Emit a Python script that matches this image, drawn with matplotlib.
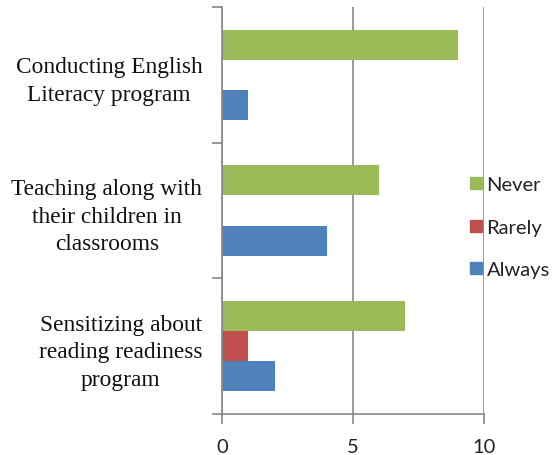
import matplotlib
matplotlib.use("Agg")
import matplotlib.pyplot as plt
from matplotlib.lines import Line2D
import numpy as np

categories = ["Sensitizing about\nreading readiness\nprogram",
              "Teaching along with\ntheir children in\nclassrooms",
              "Conducting English\nLiteracy program"]
always = [2, 4, 1]
rarely = [1, 0, 0]
never = [7, 6, 9]
series_names = ["Never", "Rarely", "Always"]
colors = {"Never": "#9BBB59", "Rarely": "#C0504D", "Always": "#4F81BD"}
x_ticks = [0, 5, 10]

fig = plt.figure(figsize=(5.54, 4.56), dpi=100)
ax = fig.add_axes([0.4013, 0.0899, 0.8731 - 0.4013, 0.9825 - 0.0899])

y = np.arange(len(categories))
h = 1 / 4.5
ax.barh(y - h, always, height=h, color=colors["Always"], zorder=3)
ax.barh(y, rarely, height=h, color=colors["Rarely"], zorder=3)
ax.barh(y + h, never, height=h, color=colors["Never"], zorder=3)

ax.set_xlim(0, 10)
ax.set_ylim(-0.5, len(categories) - 0.5)

gray = "#878787"
ax.set_xticks(x_ticks)
ax.set_xticklabels([str(t) for t in x_ticks], fontfamily="Lato", fontsize=14.5, color="#222222")
ax.tick_params(axis="x", direction="out", length=7, width=1.2, color=gray, pad=10.5)

ax.set_yticks(np.arange(-0.5, len(categories)), minor=False)
ax.set_yticklabels([])
ax.tick_params(axis="y", which="major", direction="out", length=7, width=1.2, color=gray)
ax.set_yticks(y, minor=True)
ax.set_yticklabels(categories, minor=True, fontfamily="Liberation Serif", fontsize=16.8,
                   color="#111111", ha="right", multialignment="center")
for lab in ax.get_yticklabels(minor=True):
    lab.set_linespacing(1.4)
ax.tick_params(axis="y", which="minor", length=0, pad=14.4)

ax.grid(axis="x", color=gray, linewidth=1.2, zorder=0)
for s in ["top", "right"]:
    ax.spines[s].set_visible(False)
for s in ["left", "bottom"]:
    ax.spines[s].set_color(gray)
    ax.spines[s].set_linewidth(1.2)
    ax.spines[s].set_zorder(4)

handles = [Line2D([], [], marker="s", linestyle="none", markersize=8.5,
                  markerfacecolor=colors[n], markeredgecolor=colors[n]) for n in series_names]
fig.legend(handles, series_names, loc="center left", bbox_to_anchor=(0.828, 0.50),
           frameon=False, prop={"family": "Lato", "size": 14.5},
           handlelength=0.7, handletextpad=0.18, labelspacing=1.25, borderpad=0,
           labelcolor="#222222")

fig.savefig("out.png", dpi=100)
